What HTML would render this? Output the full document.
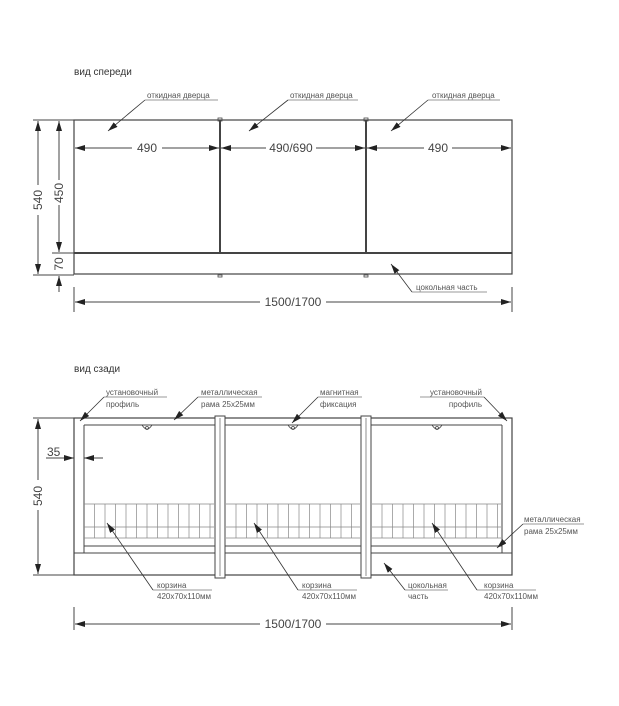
<!DOCTYPE html>
<html><head><meta charset="utf-8"><style>
html,body{margin:0;padding:0;background:#fff;}
svg{display:block;font-family:"Liberation Sans",Arial,sans-serif;}
.s{font-size:8px;fill:#555;}
.d{font-size:12px;fill:#444;}
.t{font-size:10px;fill:#333;}
</style></head><body>
<svg width="619" height="706" viewBox="0 0 619 706" xmlns="http://www.w3.org/2000/svg">
<defs>
<marker id="a" viewBox="0 0 10 6" refX="10" refY="3" markerWidth="10" markerHeight="6" orient="auto-start-reverse" markerUnits="userSpaceOnUse"><path d="M0,0L10,3L0,6z" fill="#222"/></marker>
</defs>
<g stroke="#444" fill="none" stroke-width="1">
<!-- FRONT -->
<rect x="74" y="120" width="438" height="154" stroke-width="1.2"/>
<line x1="74" y1="253" x2="512" y2="253" stroke-width="2"/>
<line x1="220" y1="120" x2="220" y2="253" stroke-width="2"/>
<line x1="366" y1="120" x2="366" y2="253" stroke-width="2"/>
<rect x="218" y="118" width="4" height="3" stroke-width="0.8"/>
<rect x="364" y="118" width="4" height="3" stroke-width="0.8"/>
<rect x="218" y="275" width="4" height="2" stroke-width="0.8"/>
<rect x="364" y="275" width="4" height="2" stroke-width="0.8"/>
<line x1="75" y1="148" x2="132" y2="148" marker-start="url(#a)"/><line x1="162" y1="148" x2="219" y2="148" marker-end="url(#a)"/>
<line x1="221" y1="148" x2="266" y2="148" marker-start="url(#a)"/><line x1="316" y1="148" x2="365" y2="148" marker-end="url(#a)"/>
<line x1="367" y1="148" x2="424" y2="148" marker-start="url(#a)"/><line x1="452" y1="148" x2="511" y2="148" marker-end="url(#a)"/>
<line x1="33" y1="120" x2="74" y2="120"/><line x1="33" y1="275" x2="74" y2="275"/><line x1="52" y1="253" x2="74" y2="253"/>
<line x1="38" y1="121" x2="38" y2="185" marker-start="url(#a)"/><line x1="38" y1="215" x2="38" y2="274" marker-end="url(#a)"/>
<line x1="59" y1="121" x2="59" y2="180" marker-start="url(#a)"/><line x1="59" y1="205" x2="59" y2="252" marker-end="url(#a)"/>
<line x1="59" y1="292" x2="59" y2="276" marker-end="url(#a)"/>
<line x1="74" y1="287" x2="74" y2="312"/><line x1="512" y1="287" x2="512" y2="312"/>
<line x1="75" y1="302" x2="260" y2="302" marker-start="url(#a)"/><line x1="326" y1="302" x2="511" y2="302" marker-end="url(#a)"/>
<g stroke="#777" stroke-width="0.8">
<line x1="145" y1="100" x2="218" y2="100"/><line x1="145" y1="100" x2="108" y2="131" stroke="#333" marker-end="url(#a)"/>
<line x1="288" y1="100" x2="358" y2="100"/><line x1="288" y1="100" x2="249" y2="131" stroke="#333" marker-end="url(#a)"/>
<line x1="428" y1="100" x2="500" y2="100"/><line x1="428" y1="100" x2="391" y2="131" stroke="#333" marker-end="url(#a)"/>
<line x1="487" y1="292" x2="412" y2="292"/><line x1="412" y1="292" x2="391" y2="264" stroke="#333" marker-end="url(#a)"/>
</g>
<!-- REAR -->
<rect x="74" y="418" width="438" height="157" stroke-width="1.2"/>
<line x1="84" y1="425" x2="502" y2="425"/>
<line x1="84" y1="425" x2="84" y2="553"/><line x1="74" y1="553" x2="84" y2="553"/>
<line x1="502" y1="425" x2="502" y2="553"/><line x1="502" y1="553" x2="512" y2="553"/>
<line x1="84" y1="546" x2="502" y2="546"/><line x1="84" y1="553" x2="502" y2="553"/>
<rect x="215" y="416" width="10" height="162" fill="#fff"/><line x1="220" y1="418" x2="220" y2="576" stroke-width="0.6"/>
<rect x="361" y="416" width="10" height="162" fill="#fff"/><line x1="366" y1="418" x2="366" y2="576" stroke-width="0.6"/>
<g stroke="#888" stroke-width="0.7">
<line x1="84" y1="504" x2="214" y2="504"/><line x1="84" y1="527" x2="214" y2="527"/><line x1="84" y1="538" x2="214" y2="538"/>
<line x1="226" y1="504" x2="360" y2="504"/><line x1="226" y1="527" x2="360" y2="527"/><line x1="226" y1="538" x2="360" y2="538"/>
<line x1="372" y1="504" x2="501" y2="504"/><line x1="372" y1="527" x2="501" y2="527"/><line x1="372" y1="538" x2="501" y2="538"/>
<path d="M94.5,504V538M105,504V538M115.5,504V538M126,504V538M136.5,504V538M147,504V538M157.5,504V538M168,504V538M178.5,504V538M189,504V538M199.5,504V538M210,504V538"/>
<path d="M236,504V538M246.5,504V538M257,504V538M267.5,504V538M278,504V538M288.5,504V538M299,504V538M309.5,504V538M320,504V538M330.5,504V538M341,504V538M351.5,504V538"/>
<path d="M382,504V538M392.5,504V538M403,504V538M413.5,504V538M424,504V538M434.5,504V538M445,504V538M455.5,504V538M466,504V538M476.5,504V538M487,504V538M497.5,504V538"/>
</g>
<g stroke-width="0.8">
<path d="M142,425 Q147,433 152,425"/><circle cx="147" cy="428" r="1.5"/>
<path d="M288,425 Q293,433 298,425"/><circle cx="293" cy="428" r="1.5"/>
<path d="M432,425 Q437,433 442,425"/><circle cx="437" cy="428" r="1.5"/>
</g>
<line x1="33" y1="418" x2="74" y2="418"/><line x1="33" y1="575" x2="74" y2="575"/>
<line x1="38" y1="419" x2="38" y2="480" marker-start="url(#a)"/><line x1="38" y1="510" x2="38" y2="574" marker-end="url(#a)"/>
<line x1="46" y1="458" x2="74" y2="458" marker-end="url(#a)"/><line x1="103" y1="458" x2="84" y2="458" marker-end="url(#a)"/>
<line x1="74" y1="607" x2="74" y2="630"/><line x1="512" y1="607" x2="512" y2="630"/>
<line x1="75" y1="624" x2="260" y2="624" marker-start="url(#a)"/><line x1="326" y1="624" x2="511" y2="624" marker-end="url(#a)"/>
<g stroke="#777" stroke-width="0.8">
<line x1="104" y1="397" x2="167" y2="397"/><line x1="104" y1="397" x2="80" y2="421" stroke="#333" marker-end="url(#a)"/>
<line x1="198" y1="397" x2="262" y2="397"/><line x1="198" y1="397" x2="174" y2="420" stroke="#333" marker-end="url(#a)"/>
<line x1="318" y1="397" x2="362" y2="397"/><line x1="318" y1="397" x2="292" y2="423" stroke="#333" marker-end="url(#a)"/>
<line x1="420" y1="397" x2="484" y2="397"/><line x1="484" y1="397" x2="507" y2="421" stroke="#333" marker-end="url(#a)"/>
<line x1="523" y1="524" x2="584" y2="524"/><line x1="523" y1="524" x2="497" y2="548" stroke="#333" marker-end="url(#a)"/>
<line x1="153" y1="590" x2="212" y2="590"/><line x1="153" y1="590" x2="107" y2="523" stroke="#333" marker-end="url(#a)"/>
<line x1="298" y1="590" x2="357" y2="590"/><line x1="298" y1="590" x2="254" y2="523" stroke="#333" marker-end="url(#a)"/>
<line x1="477" y1="590" x2="536" y2="590"/><line x1="477" y1="590" x2="432" y2="523" stroke="#333" marker-end="url(#a)"/>
<line x1="405" y1="590" x2="448" y2="590"/><line x1="405" y1="590" x2="384" y2="563" stroke="#333" marker-end="url(#a)"/>
</g>
</g>
<text class="t" x="74" y="75">вид спереди</text>
<text class="t" x="74" y="372">вид сзади</text>
<g class="s">
<text x="147" y="98">откидная дверца</text>
<text x="290" y="98">откидная дверца</text>
<text x="432" y="98">откидная дверца</text>
<text x="416" y="290">цокольная часть</text>
<text x="106" y="395">установочный</text><text x="106" y="407">профиль</text>
<text x="201" y="395">металлическая</text><text x="201" y="407">рама 25х25мм</text>
<text x="320" y="395">магнитная</text><text x="320" y="407">фиксация</text>
<text x="482" y="395" text-anchor="end">установочный</text><text x="482" y="407" text-anchor="end">профиль</text>
<text x="524" y="522">металлическая</text><text x="524" y="534">рама 25х25мм</text>
<text x="157" y="588">корзина</text><text x="157" y="599">420х70х110мм</text>
<text x="302" y="588">корзина</text><text x="302" y="599">420х70х110мм</text>
<text x="484" y="588">корзина</text><text x="484" y="599">420х70х110мм</text>
<text x="408" y="588">цокольная</text><text x="408" y="599">часть</text>
</g>
<g class="d">
<text x="147" y="152" text-anchor="middle">490</text>
<text x="291" y="152" text-anchor="middle">490/690</text>
<text x="438" y="152" text-anchor="middle">490</text>
<text x="293" y="306" text-anchor="middle">1500/1700</text>
<text x="293" y="628" text-anchor="middle">1500/1700</text>
<text x="47" y="456">35</text>
<text transform="translate(42,200) rotate(-90)" text-anchor="middle">540</text>
<text transform="translate(63,193) rotate(-90)" text-anchor="middle">450</text>
<text transform="translate(63,264) rotate(-90)" text-anchor="middle">70</text>
<text transform="translate(42,496) rotate(-90)" text-anchor="middle">540</text>
</g>
</svg>
</body></html>
